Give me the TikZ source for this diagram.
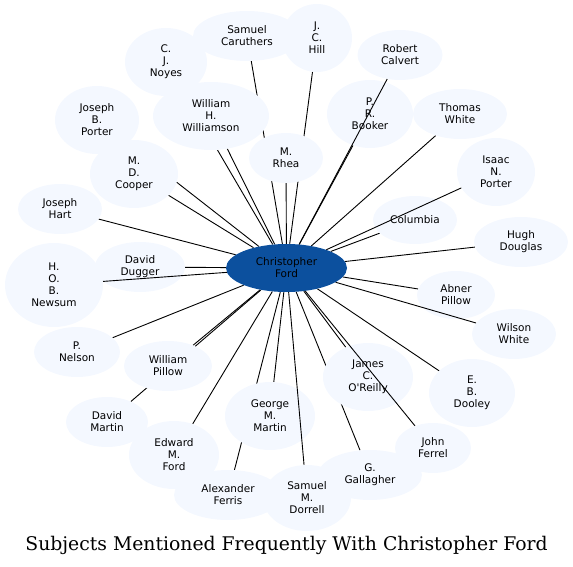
\documentclass[tikz,border=0pt]{standalone}
\usepackage{fontspec}
\usepackage{tikz}
\usepackage{xcolor}
\usetikzlibrary{shapes.geometric, backgrounds}

\newfontfamily\labelfont{DejaVu Sans}
\newfontfamily\titlefont{DejaVu Serif}

\definecolor{subjfill}{RGB}{244,248,255}
\definecolor{hubfill}{RGB}{12,80,158}

\tikzset{
    subject/.style={ellipse, fill=subjfill, inner sep=0pt, align=center,
        font=\labelfont\fontsize{10.5}{12}\selectfont},
    hub/.style={subject, fill=hubfill},
    link/.style={line width=0.9pt, black}
}

\begin{document}
\begin{tikzpicture}[x=1pt, y=-1pt]
        \useasboundingbox (0,0) rectangle (573,567);

        \node (ford) at (286.5, 268) [hub, minimum width=121, minimum height=48] {Christopher\\Ford};

        \node (caruthers)  at (247, 36)  [subject, minimum width=108, minimum height=50] {Samuel\\Caruthers};
        \node (noyes)      at (166, 62)  [subject, minimum width=82,  minimum height=68] {C.\\J.\\Noyes};
        \node (hill)       at (317, 38)  [subject, minimum width=70,  minimum height=68] {J.\\C.\\Hill};
        \node (calvert)    at (400, 55)  [subject, minimum width=85,  minimum height=50] {Robert\\Calvert};
        \node (booker)     at (370, 114) [subject, minimum width=86,  minimum height=68] {P.\\R.\\Booker};
        \node (twhite)     at (460, 114) [subject, minimum width=94,  minimum height=50] {Thomas\\White};
        \node (iporter)    at (496, 172) [subject, minimum width=78,  minimum height=68] {Isaac\\N.\\Porter};
        \node (columbia)   at (415, 220) [subject, minimum width=84,  minimum height=48] {Columbia};
        \node (douglas)    at (521, 242) [subject, minimum width=94,  minimum height=50] {Hugh\\Douglas};
        \node (apillow)    at (456, 295) [subject, minimum width=78,  minimum height=48] {Abner\\Pillow};
        \node (wwhite)     at (514, 334) [subject, minimum width=84,  minimum height=50] {Wilson\\White};
        \node (dooley)     at (472, 393) [subject, minimum width=86,  minimum height=68] {E.\\B.\\Dooley};
        \node (ferrel)     at (433, 448) [subject, minimum width=76,  minimum height=50] {John\\Ferrel};
        \node (gallagher)  at (370, 475) [subject, minimum width=104, minimum height=50] {G.\\Gallagher};
        \node (oreilly)    at (368, 377) [subject, minimum width=90,  minimum height=68] {James\\C.\\O'Reilly};
        \node (dorrell)    at (307, 498) [subject, minimum width=88,  minimum height=66] {Samuel\\M.\\Dorrell};
        \node (gmartin)    at (270, 416) [subject, minimum width=90,  minimum height=68] {George\\M.\\Martin};
        \node (ferris)     at (228, 495) [subject, minimum width=108, minimum height=50] {Alexander\\Ferris};
        \node (eford)      at (174, 455) [subject, minimum width=90,  minimum height=68] {Edward\\M.\\Ford};
        \node (dmartin)    at (107, 422) [subject, minimum width=82,  minimum height=50] {David\\Martin};
        \node (wpillow)    at (168, 366) [subject, minimum width=88,  minimum height=50] {William\\Pillow};
        \node (nelson)     at (77, 352)  [subject, minimum width=86,  minimum height=50] {P.\\Nelson};
        \node (newsum)     at (54, 285)  [subject, minimum width=98,  minimum height=84] {H.\\O.\\B.\\Newsum};
        \node (dugger)     at (140, 267) [subject, minimum width=90,  minimum height=50] {David\\Dugger};
        \node (hart)       at (60, 209)  [subject, minimum width=84,  minimum height=50] {Joseph\\Hart};
        \node (cooper)     at (134, 174) [subject, minimum width=88,  minimum height=68] {M.\\D.\\Cooper};
        \node (jporter)    at (97, 120)  [subject, minimum width=84,  minimum height=68] {Joseph\\B.\\Porter};
        \node (williamson) at (211, 116) [subject, minimum width=116, minimum height=68] {William\\H.\\Williamson};
        \node (rhea)       at (286, 158) [subject, minimum width=74,  minimum height=50] {M.\\Rhea};

        % most links run under the bubbles
        \begin{pgfonlayer}{background}
            \foreach \n in {caruthers, noyes, hill, booker, twhite, columbia, douglas,
                apillow, dooley, gallagher, oreilly, gmartin, ferris,
                eford, dmartin, wpillow, nelson, dugger, hart, cooper, jporter,
                williamson, rhea}
                \draw[link] (ford) -- (\n);
        \end{pgfonlayer}

        % these cross a bubble on top
        \foreach \n in {calvert, iporter, newsum, ferrel, wwhite, dorrell}
            \draw[link] (ford) -- (\n);

        \node (title) at (286.5, 545) [font=\titlefont\fontsize{18.8}{22}\selectfont] {Subjects Mentioned Frequently With Christopher Ford};
    \end{tikzpicture}
\end{document}
